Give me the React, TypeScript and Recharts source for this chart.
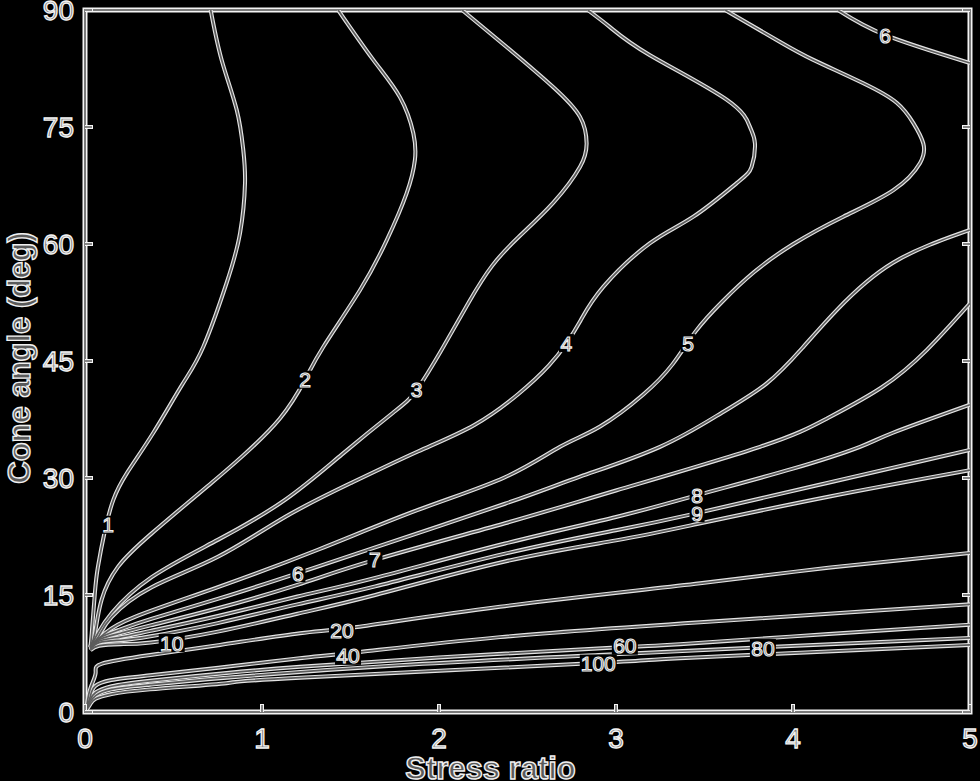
import React from 'react';
import { LineChart, Line, XAxis, YAxis, ReferenceDot, ReferenceArea, Label } from 'recharts';

type Pt = [number, number];

// Contour curves (stress ratio, cone angle in degrees), in drawing order
const c1: Pt[] = [[0.03,8.3],[0.038,10.1],[0.056,15.3],[0.073,18.6],[0.113,23.3],[0.16,27.2],[0.236,30.6],[0.386,35.8],[0.55,42.0],[0.668,46.8],[0.8,55.0],[0.876,61.4],[0.904,67.8],[0.894,72.1],[0.857,77.2],[0.772,83.6],[0.71,90]];
const c2: Pt[] = [[0.03,8.4],[0.056,10.1],[0.094,14.4],[0.186,18.6],[0.377,22.9],[0.716,29.4],[0.894,32.9],[1.1,37.6],[1.243,42.6],[1.346,46.8],[1.554,54.1],[1.705,60.5],[1.817,66.5],[1.864,70.8],[1.855,74.2],[1.78,78.8],[1.629,83.6],[1.43,90]];
const c3: Pt[] = [[0.03,8.4],[0.073,10.1],[0.151,12.7],[0.377,17.3],[0.753,22.1],[1.13,27.2],[1.45,33.0],[1.742,38.4],[1.874,41.3],[2.024,46.8],[2.17,52.6],[2.3,57.2],[2.45,60.9],[2.646,65.3],[2.797,69.9],[2.834,72.9],[2.797,76.3],[2.646,80.1],[2.401,84.9],[2.13,90]];
const c4: Pt[] = [[0.03,8.4],[0.08,9.8],[0.151,12.2],[0.377,16.0],[0.751,19.9],[1.13,25.0],[1.507,29.4],[1.881,33.4],[2.2,36.8],[2.45,40.8],[2.62,44.4],[2.721,47.3],[2.8,50.2],[2.928,54.5],[3.192,60.1],[3.437,63.5],[3.682,67.8],[3.766,69.9],[3.785,72.9],[3.757,75.0],[3.625,78.5],[3.192,84.2],[2.966,87.8],[2.84,90]];
const c5: Pt[] = [[0.03,8.3],[0.113,10.1],[0.282,12.2],[0.751,16.0],[1.316,20.8],[1.881,25.9],[2.373,30.1],[2.684,34.0],[2.91,36.6],[3.154,40.7],[3.32,44.6],[3.45,48.8],[3.6,52.6],[3.78,56.4],[4.002,60.0],[4.284,63.5],[4.567,66.9],[4.718,70.4],[4.736,72.9],[4.68,75.5],[4.586,78.1],[4.397,80.6],[4.115,83.6],[3.927,85.9],[3.616,90]];
const c6top: Pt[] = [[4.254,90],[4.52,86.8],[5,83.2]];
const c6: Pt[] = [[0.03,8.3],[0.08,9.5],[0.2,10.6],[0.37,11.9],[0.75,14.5],[1.203,17.8],[1.64,21.1],[2.373,26.7],[2.8,30.2],[3.249,34.0],[3.6,38.4],[3.85,42.1],[4.05,46.6],[4.25,51.6],[4.565,57.6],[5,61.8]];
const c7: Pt[] = [[0.03,8.2],[0.08,9.3],[0.2,10.1],[0.37,11.1],[0.75,13.3],[1.2,16.3],[1.638,19.5],[2.373,24.2],[3.0,28.4],[3.814,34.0],[4.19,37.6],[4.5,41.6],[4.755,46.4],[5,52.4]];
const c8: Pt[] = [[0.03,8.1],[0.08,9.1],[0.2,9.6],[0.37,10.4],[0.75,12.3],[1.2,14.8],[1.64,17.2],[2.373,21.6],[3.0,25.0],[3.458,27.8],[4.0,31.2],[4.379,34.0],[4.565,35.8],[5,39.4]];
const c9: Pt[] = [[0.03,8.0],[0.08,8.9],[0.2,9.2],[0.37,9.7],[0.75,11.4],[1.2,13.8],[1.64,16.1],[2.373,20.3],[3.0,23.3],[3.458,25.5],[4.2,29.4],[5,33.6]];
const c10: Pt[] = [[0.03,7.9],[0.08,8.5],[0.2,8.7],[0.37,8.9],[0.75,10.3],[1.2,12.6],[1.64,15.0],[2.373,19.3],[3.0,22.0],[3.458,24.1],[4.2,27.6],[5,31.0]];
const c20: Pt[] = [[0.01,0.8],[0.03,3.0],[0.06,5.0],[0.096,6.2],[0.367,7.3],[0.763,8.6],[1.215,10.1],[1.537,10.9],[2.345,13.5],[3.475,16.5],[4.2,18.5],[5,20.4]];
const c40: Pt[] = [[0.01,0.6],[0.03,2.0],[0.056,3.3],[0.15,4.1],[0.367,4.7],[0.8,5.8],[1.215,6.9],[1.554,7.7],[2.345,9.6],[3.475,11.5],[5,13.8]];
const c60: Pt[] = [[0.01,0.5],[0.03,1.6],[0.06,2.5],[0.15,3.3],[0.367,4.0],[0.8,5.0],[1.215,5.8],[2.0,7.0],[3.023,8.3],[3.362,8.7],[4.2,10.0],[5,11.2]];
const c80: Pt[] = [[0.01,0.4],[0.03,1.3],[0.06,2.1],[0.15,2.9],[0.367,3.5],[0.8,4.4],[1.78,6.0],[2.9,7.3],[3.83,8.3],[5,9.5]];
const c100: Pt[] = [[0.01,0.3],[0.03,1.0],[0.06,1.7],[0.15,2.3],[0.367,2.9],[0.8,3.7],[1.215,4.4],[2.91,6.3],[3.362,6.9],[5,8.6]];

const curves: Pt[][] = [c1, c2, c3, c4, c5, c6top, c6, c7, c8, c9, c10, c20, c40, c60, c80, c100];

const contourLabels: { text: string; x: number; y: number }[] = [
  { text: '1', x: 0.13, y: 24.0 },
  { text: '2', x: 1.243, y: 42.6 },
  { text: '3', x: 1.874, y: 41.3 },
  { text: '4', x: 2.72, y: 47.3 },
  { text: '5', x: 3.407, y: 47.3 },
  { text: '6', x: 4.52, y: 86.8 },
  { text: '6', x: 1.203, y: 17.8 },
  { text: '7', x: 1.638, y: 19.5 },
  { text: '8', x: 3.458, y: 27.8 },
  { text: '9', x: 3.458, y: 25.5 },
  { text: '10', x: 0.49, y: 8.85 },
  { text: '20', x: 1.452, y: 10.5 },
  { text: '40', x: 1.486, y: 7.2 },
  { text: '60', x: 3.05, y: 8.5 },
  { text: '80', x: 3.83, y: 8.2 },
  { text: '100', x: 2.9, y: 6.2 },
];

const xTicks = [0, 1, 2, 3, 4, 5];
const yTicks = [0, 15, 30, 45, 60, 75, 90];
const xDomain: [number, number] = [0, 5];
const yDomain: [number, number] = [0, 90];

const FONT = '"Liberation Sans", Arial, Helvetica, sans-serif';
const TICK_LEN = 8;
const TICK_FS = 28;
const textStyle = { fill: '#7c7c7c', stroke: '#f4f4f4', strokeWidth: 1.3 };

const BottomTick = (p: any) => (
  <g>
    <line x1={p.x} x2={p.x} y1={p.y} y2={p.y - TICK_LEN} stroke="#f4f4f4" strokeWidth={4} />
    <line x1={p.x} x2={p.x} y1={p.y} y2={p.y - TICK_LEN + 1} stroke="#6a6a6a" strokeWidth={1.6} />
    <text x={p.x} y={p.y + 36} textAnchor="middle" fontFamily={FONT} fontSize={TICK_FS} {...textStyle}>
      {p.payload.value}
    </text>
  </g>
);
const LeftTick = (p: any) => (
  <g>
    <line x1={p.x} x2={p.x + TICK_LEN} y1={p.y} y2={p.y} stroke="#f4f4f4" strokeWidth={4} />
    <line x1={p.x} x2={p.x + TICK_LEN - 1} y1={p.y} y2={p.y} stroke="#6a6a6a" strokeWidth={1.6} />
    <text x={p.x - 11} y={p.y} dy="0.36em" textAnchor="end" fontFamily={FONT} fontSize={TICK_FS} {...textStyle}>
      {p.payload.value}
    </text>
  </g>
);
const TopTick = (p: any) => (
  <g>
    <line x1={p.x} x2={p.x} y1={p.y} y2={p.y + TICK_LEN} stroke="#f4f4f4" strokeWidth={4} />
    <line x1={p.x} x2={p.x} y1={p.y} y2={p.y + TICK_LEN - 1} stroke="#6a6a6a" strokeWidth={1.6} />
  </g>
);
const RightTick = (p: any) => (
  <g>
    <line x1={p.x} x2={p.x - TICK_LEN} y1={p.y} y2={p.y} stroke="#f4f4f4" strokeWidth={4} />
    <line x1={p.x} x2={p.x - TICK_LEN + 1} y1={p.y} y2={p.y} stroke="#6a6a6a" strokeWidth={1.6} />
  </g>
);

const labelShape = (text: string) => (p: any) => {
  const w = text.length * 11 + 4;
  return (
    <g>
      <rect x={p.cx - w / 2} y={p.cy - 9} width={w} height={18} fill="#000" />
      <text x={p.cx} y={p.cy} dy="0.36em" textAnchor="middle" fontFamily={FONT} fontSize={21}
        fill="#4a4a4a" stroke="#f0f0f0" strokeWidth={1.1}>
        {text}
      </text>
    </g>
  );
};

export default function App() {
  return (
    <div style={{ position: 'fixed', left: 0, top: 0, width: 980, height: 781, background: '#000', overflow: 'hidden' }}>
      <LineChart width={980} height={781} margin={{ top: 9, right: 9, bottom: 0, left: 0 }}>
        <XAxis dataKey="x" type="number" domain={xDomain} ticks={xTicks} allowDataOverflow
          height={69} axisLine={false} tickLine={false} tickSize={0} tickMargin={0} tick={<BottomTick />}
          interval={0}>
          <Label content={(props: any) => {
            const vb = props.viewBox;
            return (
              <text x={vb.x + vb.width / 2 - 37} y={vb.y + 67} textAnchor="middle" fontFamily={FONT}
                fontWeight="bold" fontSize={31} fill="#5a5a5a" stroke="#f0f0f0" strokeWidth={1.4}>
                Stress ratio
              </text>
            );
          }} />
        </XAxis>
        <XAxis xAxisId="top" orientation="top" type="number" domain={xDomain} ticks={xTicks} allowDataOverflow
          height={1} axisLine={false} tickLine={false} tickSize={0} tickMargin={0} tick={<TopTick />} interval={0} />
        <YAxis type="number" domain={yDomain} ticks={yTicks} allowDataOverflow width={85}
          axisLine={false} tickLine={false} tickSize={0} tickMargin={0} tick={<LeftTick />} interval={0}>
          <Label content={(props: any) => {
            const vb = props.viewBox;
            const cx = 19;
            const cy = vb.y + vb.height / 2 - 3;
            return (
              <text x={cx} y={cy} transform={`rotate(-90, ${cx}, ${cy})`} textAnchor="middle" dy="0.36em"
                fontFamily={FONT} fontWeight="bold" fontSize={31} fill="#5a5a5a" stroke="#f0f0f0" strokeWidth={1.4}>
                Cone angle (deg)
              </text>
            );
          }} />
        </YAxis>
        <YAxis yAxisId="right" orientation="right" type="number" domain={yDomain} ticks={yTicks} allowDataOverflow
          width={1} axisLine={false} tickLine={false} tickSize={0} tickMargin={0} tick={<RightTick />} interval={0} />

        {curves.map((pts, i) => (
          <Line key={'o' + i} data={pts.map(([x, y]) => ({ x, y }))} dataKey="y" type="natural"
            stroke="#e4e4e4" strokeWidth={4} dot={false} activeDot={false} isAnimationActive={false} />
        ))}
        {curves.map((pts, i) => (
          <Line key={'i' + i} data={pts.map(([x, y]) => ({ x, y }))} dataKey="y" type="natural"
            stroke="#5c5c5c" strokeWidth={1.7} dot={false} activeDot={false} isAnimationActive={false} />
        ))}

        {contourLabels.map((l, i) => (
          <ReferenceDot key={'l' + i} x={l.x} y={l.y} r={0} ifOverflow="visible" shape={labelShape(l.text)} />
        ))}

        <ReferenceArea x1={xDomain[0]} x2={xDomain[1]} y1={yDomain[0]} y2={yDomain[1]} fill="none"
          fillOpacity={0} stroke="#f4f4f4" strokeWidth={5} ifOverflow="visible" />
        <ReferenceArea x1={xDomain[0]} x2={xDomain[1]} y1={yDomain[0]} y2={yDomain[1]} fill="none"
          fillOpacity={0} stroke="#7a7a7a" strokeWidth={2} ifOverflow="visible" />
      </LineChart>
    </div>
  );
}
